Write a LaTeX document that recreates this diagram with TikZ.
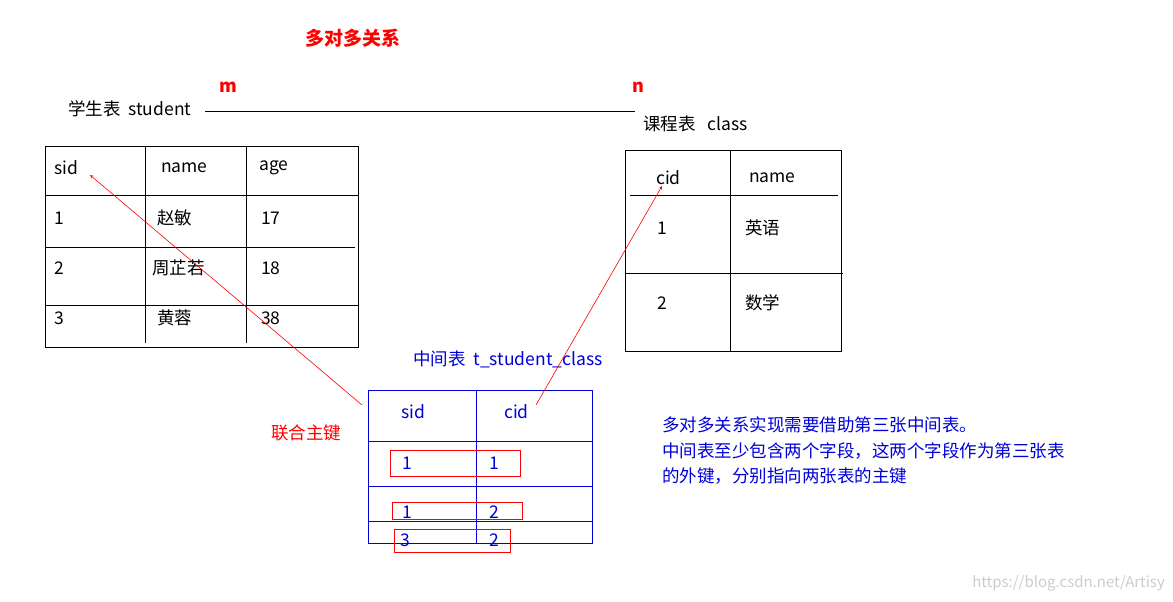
\documentclass[tikz,border=0pt]{standalone}
\usepackage{fontspec}
\setmainfont{Noto Sans CJK SC}
\begin{document}
\begin{tikzpicture}[x=1pt,y=-1pt,
  t/.style={font=\fontsize{17.5}{20}\selectfont,inner sep=0pt},
  bt/.style={t,text=blue!85!black},
  rt/.style={t,text=red},
  tb/.style={draw=black,line width=0.7pt},
  bb/.style={draw=blue!85!black,line width=0.7pt},
  rb/.style={draw=red,line width=0.6pt}]
\useasboundingbox (0,0) rectangle (1173,602);
% title
\node[rt,font=\fontsize{19}{21}\selectfont\bfseries] (title) at (353,38) {多对多关系};
\node[rt,font=\fontsize{18}{20}\selectfont\bfseries] (m) at (228,87) {m};
\node[rt,font=\fontsize{18}{20}\selectfont\bfseries] (n) at (638,87) {n};
\node[t,anchor=west] (stu) at (68,109) {学生表\ \ student};
\node[t,anchor=west] (cls) at (643,124) {课程表\ \ \ class};
\coordinate (l1) at (205,111); \coordinate (l2) at (635,111);
\draw[line width=0.7pt] (l1) -- (l2);
% student table
\draw[tb] (45,146) rectangle (358,347);
\draw[tb] (145,146) -- (145,343) (246,146) -- (246,343);
\draw[tb] (45,195) -- (358,195) (45,247) -- (355,247) (45,305) -- (358,305);
\node[t,anchor=west] (s1) at (54,168) {sid};
\node[t,anchor=west] (s2) at (161,168) {name};
\node[t,anchor=west] (s3) at (259,168) {age};
\node[t,anchor=west] (s4) at (54,218) {1};
\node[t,anchor=west] (s5) at (157,218) {赵敏};
\node[t,anchor=west] (s6) at (261,218) {17};
\node[t,anchor=west] (s7) at (54,268) {2};
\node[t,anchor=west] (s8) at (152,268) {周芷若};
\node[t,anchor=west] (s9) at (261,268) {18};
\node[t,anchor=west] (s10) at (54,318) {3};
\node[t,anchor=west] (s11) at (157,318) {黄蓉};
\node[t,anchor=west] (s12) at (261,318) {38};
% class table
\draw[tb] (625,150) rectangle (841,351);
\draw[tb] (730,150) -- (730,351);
\draw[tb] (630,195) -- (838,195) (625,273) -- (843,273);
\node[t,anchor=west] (c1) at (656,178) {cid};
\node[t,anchor=west] (c2) at (749,178) {name};
\node[t,anchor=west] (c3) at (657,228) {1};
\node[t,anchor=west] (c4) at (745,228) {英语};
\node[t,anchor=west] (c5) at (657,303) {2};
\node[t,anchor=west] (c6) at (745,303) {数学};
% middle table
\node[bt,anchor=west] (mid) at (413,359) {中间表\ \ t\_student\_class};
\draw[bb] (368,390) rectangle (592,543);
\draw[bb] (476,390) -- (476,543);
\draw[bb] (368,441) -- (592,441) (368,486) -- (592,486) (368,521) -- (592,521);
\node[bt,anchor=west] (m1) at (401,412) {sid};
\node[bt,anchor=west] (m2) at (504,412) {cid};
\node[bt,anchor=west] (m3) at (402,463) {1};
\node[bt,anchor=west] (m4) at (489,463) {1};
\node[bt,anchor=west] (m5) at (402,512) {1};
\node[bt,anchor=west] (m6) at (489,512) {2};
\node[bt,anchor=west] (m7) at (400,540) {3};
\node[bt,anchor=west] (m8) at (489,540) {2};
\draw[rb] (390,450) rectangle (520,476);
\draw[rb] (392,502) rectangle (522,519);
\draw[rb] (394,529) rectangle (510,552);
\node[rt,anchor=west] (pk) at (271,433) {联合主键};
% arrows
\coordinate (a1) at (362,405); \coordinate (a1e) at (90,175);
\coordinate (a2) at (536,405); \coordinate (a2e) at (662,186);
\draw[red,line width=0.6pt,-stealth] (a1) -- (a1e);
\draw[red,line width=0.6pt,-stealth] (a2) -- (a2e);
% note
\node[bt,anchor=west,align=left,font=\fontsize{17.5}{25.5}\selectfont] (note) at (662,451) {多对多关系实现需要借助第三张中间表。\\中间表至少包含两个字段，这两个字段作为第三张表\\的外键，分别指向两张表的主键};
\node[t,text=gray!40,font=\fontsize{15}{17}\selectfont,anchor=east] (wm) at (1165,583) {https://blog.csdn.net/Artisy};
\end{tikzpicture}
\end{document}
